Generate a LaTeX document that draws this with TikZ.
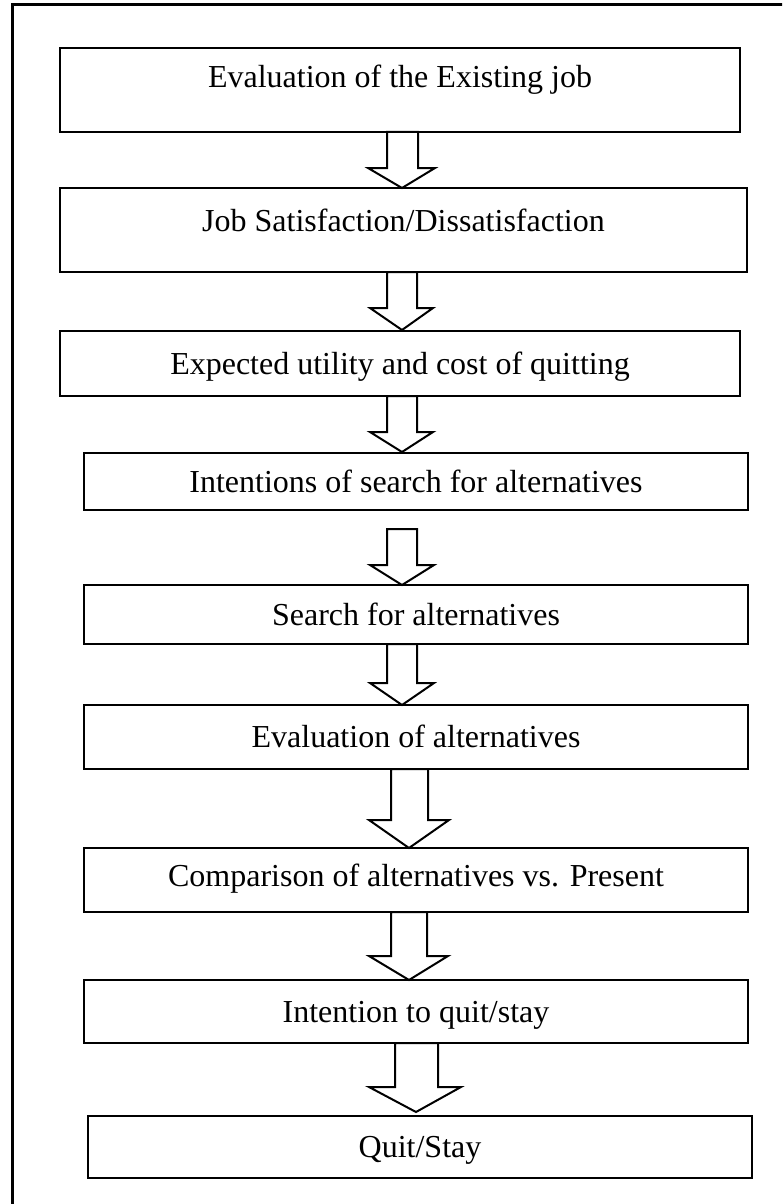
\documentclass[tikz,border=0pt]{standalone}
\usepackage{fontspec}
\setmainfont{Liberation Serif}
\begin{document}
\begin{tikzpicture}[x=1pt,y=-1pt,
  box/.style={draw, line width=2pt, inner sep=0pt, outer sep=0pt,
    font=\fontsize{32}{38}\selectfont, text height=21pt, text depth=0pt, fill=white},
  barrow/.style={draw, line width=2pt, fill=white, line join=miter},
  frame/.style={line width=3pt}]
\useasboundingbox (0,0) rectangle (782,1204);
\clip (0,0) rectangle (782,1204);
\fill[white] (0,0) rectangle (782,1204);
\draw[frame] (12,1220) -- (12,5) -- (800,5);

\node[box, minimum width=680pt, minimum height=84pt, text depth=25pt] (b1) at (400,90) {Evaluation of the Existing job};
\node[box, minimum width=687pt, minimum height=84pt, text depth=18pt] (b2) at (403.5,230) {Job Satisfaction/Dissatisfaction};
\node[box, minimum width=680pt, minimum height=65pt] (b3) at (400,363.5) {Expected utility and cost of quitting};
\node[box, minimum width=664pt, minimum height=57pt] (b4) at (416,481.5) {Intentions of search for alternatives};
\node[box, minimum width=664pt, minimum height=59pt] (b5) at (416,614.5) {Search for alternatives};
\node[box, minimum width=664pt, minimum height=64pt] (b6) at (416,737) {Evaluation of alternatives};
\node[box, minimum width=664pt, minimum height=64pt, text depth=8pt] (b7) at (416,880) {Comparison of alternatives vs. Present};
\node[box, minimum width=664pt, minimum height=63pt] (b8) at (416,1011.5) {Intention to quit/stay};
\node[box, minimum width=664pt, minimum height=62pt] (b9) at (420,1147) {Quit/Stay};

% hollow block arrows between the boxes
\draw[barrow] ([xshift=-13pt]b1.south) -- ++(0,36) -- ++(-19,0)
  -- ([xshift=-1.5pt]b2.north) -- ++(33,-20) -- ++(-17,0) -- ++(0,-36) -- cycle;
\draw[barrow] ([xshift=-16.5pt]b2.south) -- ++(0,36) -- ++(-17,0)
  -- ([xshift=2pt,yshift=1pt]b3.north) -- ++(31,-22) -- ++(-16,0) -- ++(0,-36) -- cycle;
\draw[barrow] ([xshift=-13pt]b3.south) -- ++(0,36) -- ++(-17,0)
  -- ([xshift=-14pt,yshift=1pt]b4.north) -- ++(31,-20) -- ++(-16,0) -- ++(0,-36) -- cycle;
\draw[barrow] ([xshift=-29pt,yshift=-19pt]b4.south) -- ++(0,36) -- ++(-17,0)
  -- ([xshift=-14pt]b5.north) -- ++(32,-20) -- ++(-17,0) -- ++(0,-36) -- cycle;
\draw[barrow] ([xshift=-29pt]b5.south) -- ++(0,39) -- ++(-17,0)
  -- ([xshift=-14pt]b6.north) -- ++(32,-22) -- ++(-17,0) -- ++(0,-39) -- cycle;
\draw[barrow] ([xshift=-25pt]b6.south) -- ++(0,51) -- ++(-22,0)
  -- ([xshift=-7pt]b7.north) -- ++(40,-28) -- ++(-21,0) -- ++(0,-51) -- cycle;
\draw[barrow] ([xshift=-25pt]b7.south) -- ++(0,44) -- ++(-22,0)
  -- ([xshift=-7pt]b8.north) -- ++(39,-24) -- ++(-21,0) -- ++(0,-44) -- cycle;
\draw[barrow] ([xshift=-21pt]b8.south) -- ++(0,44) -- ++(-26,0)
  -- ([xshift=-4pt,yshift=4pt]b9.north) -- ++(45,-25) -- ++(-23,0) -- ++(0,-44) -- cycle;
\end{tikzpicture}
\end{document}
